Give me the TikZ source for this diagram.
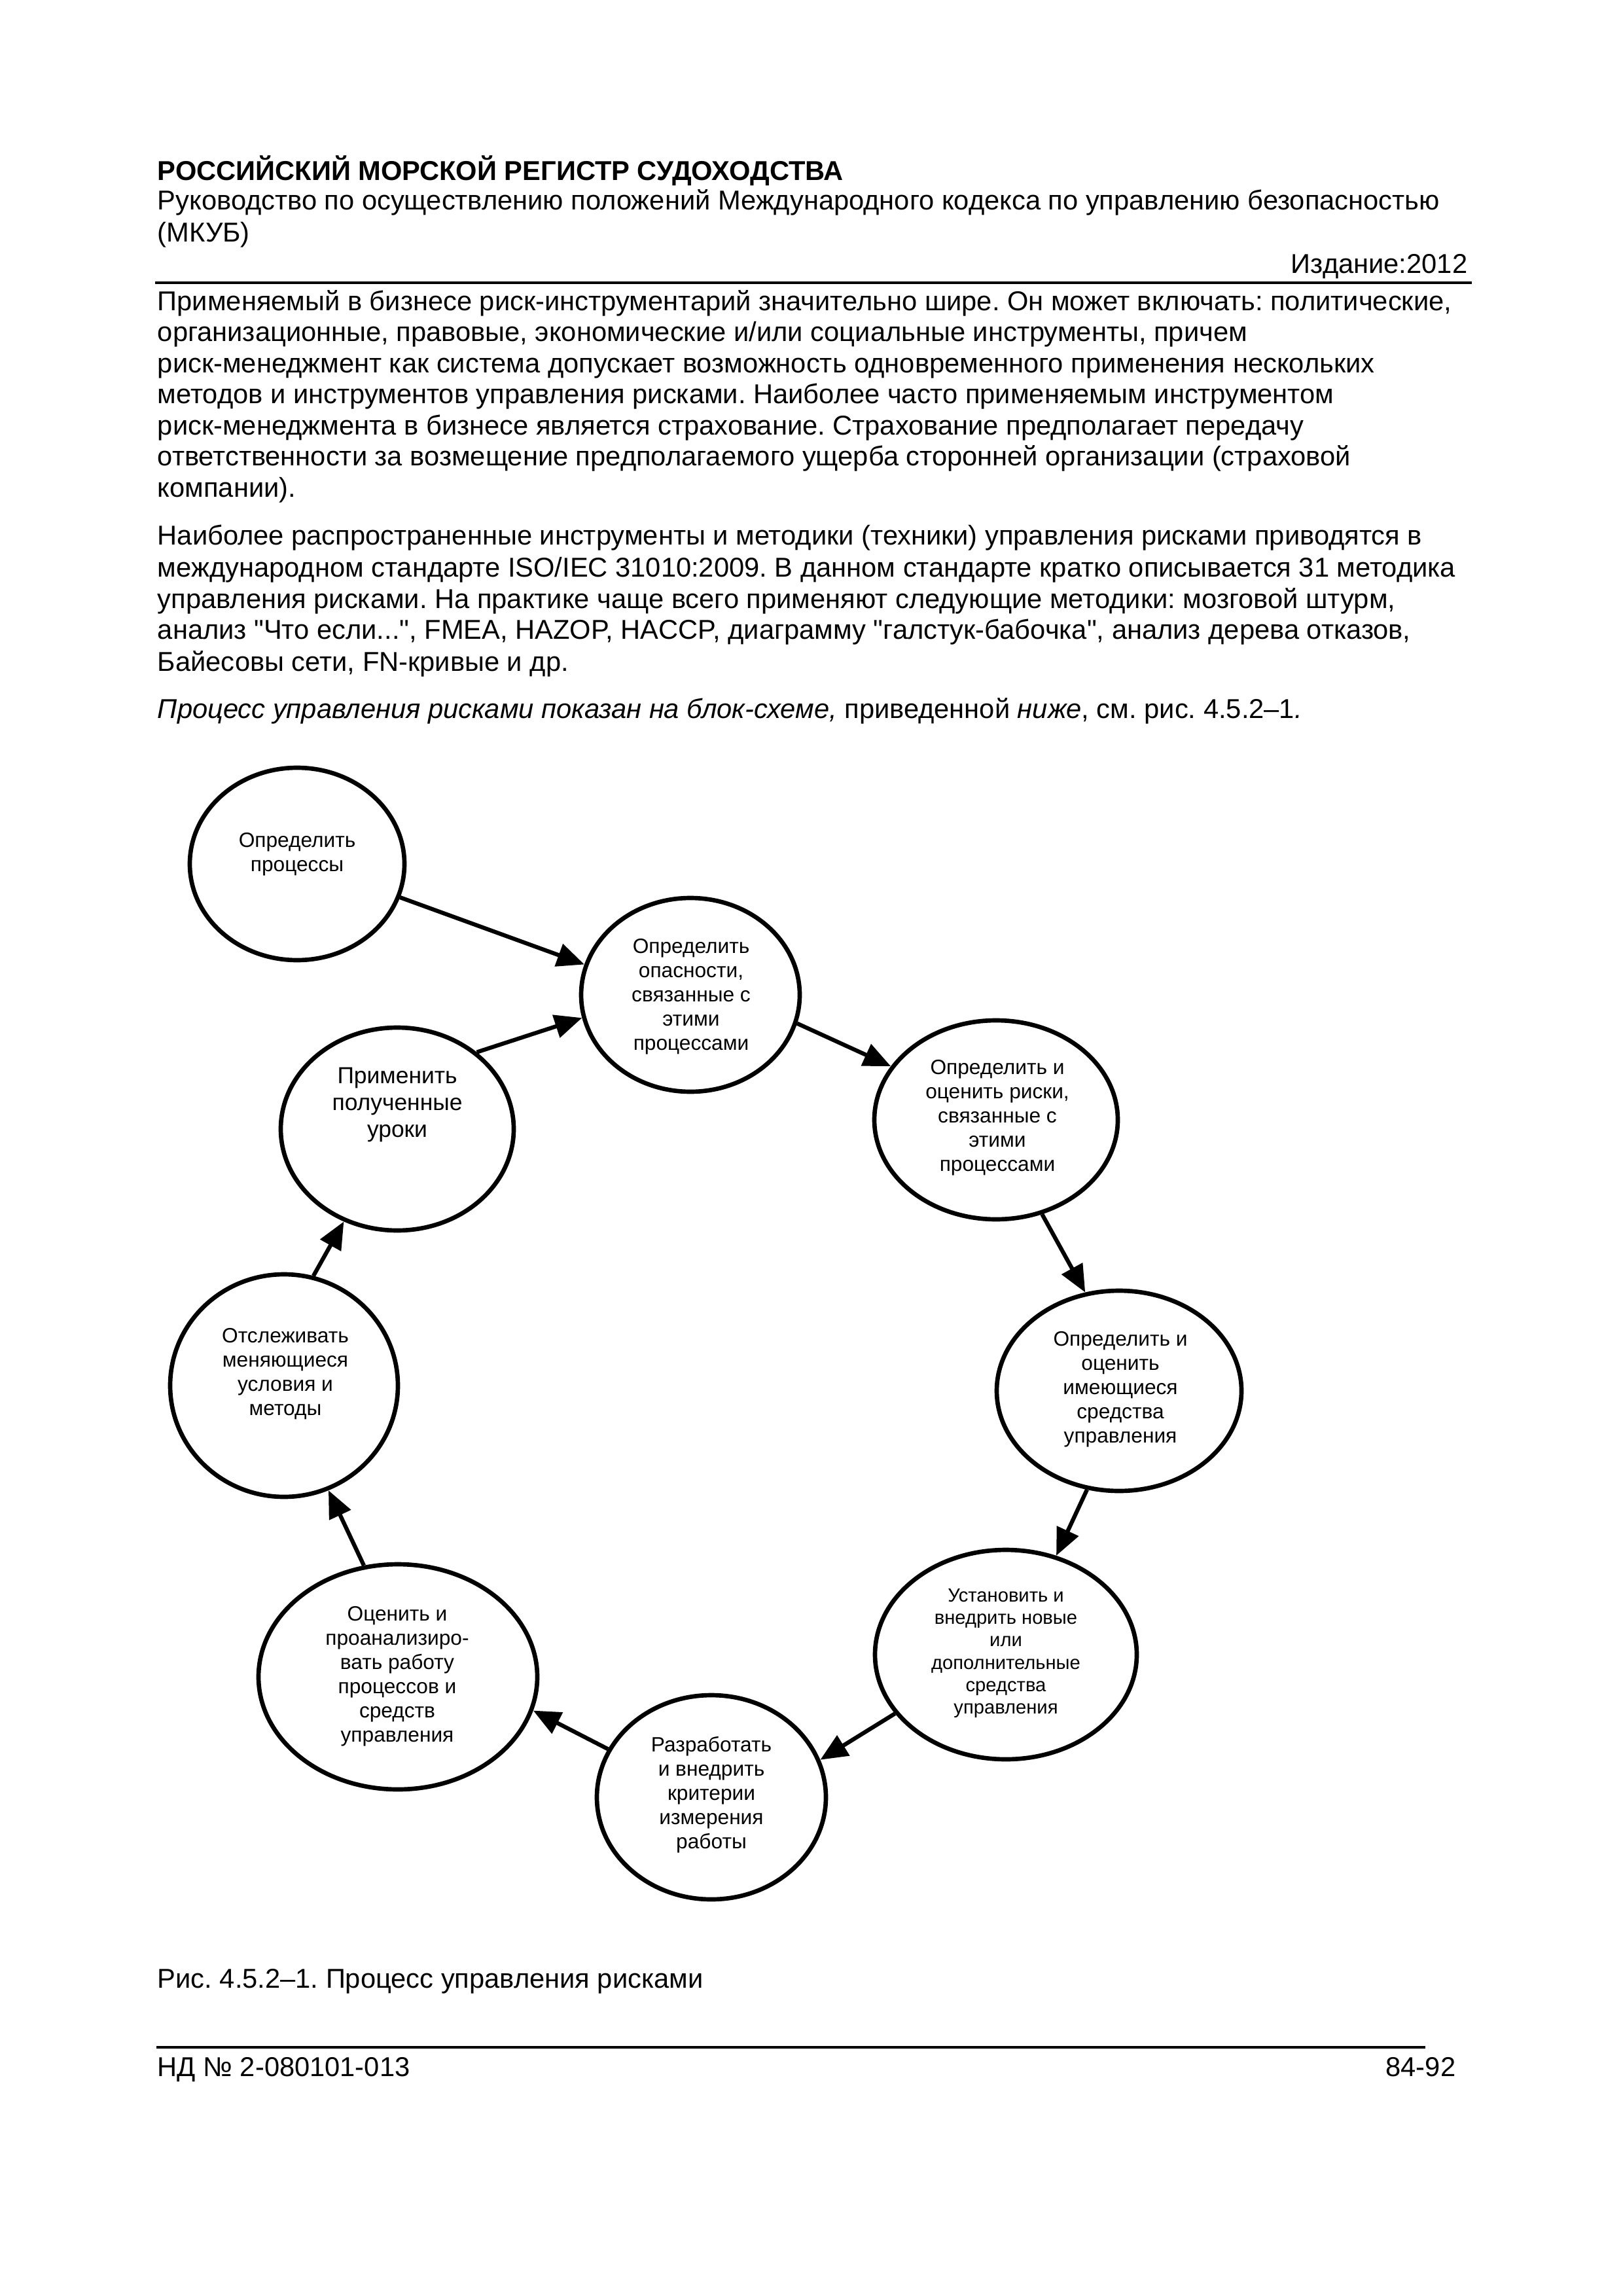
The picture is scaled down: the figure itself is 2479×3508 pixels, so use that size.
\documentclass[tikz,border=0pt]{standalone}
\usepackage{fontspec}
\setmainfont{Liberation Sans}
\usetikzlibrary{shapes.geometric,arrows.meta}
\font\qf="Liberation Sans" at 10pt
\newcommand{\dq}{{\qf"}}
\frenchspacing
\begin{document}
\begin{tikzpicture}[x=0.24pt,y=-0.24pt,
 body/.style={anchor=base west, inner sep=0pt, font=\fontsize{10}{11.5}\selectfont},
 bodyr/.style={anchor=base east, inner sep=0pt, font=\fontsize{10}{11.5}\selectfont},
 circ/.style 2 args={ellipse, draw, line width=1.6pt, inner sep=0pt, minimum width=#1*0.48pt, minimum height=#2*0.48pt},
 ctext/.style={align=center, inner sep=0pt, font=\fontsize{7.6}{8.9}\selectfont},
 arr/.style={line width=1.5pt, -{Triangle[length=10pt,width=8.5pt]}},
 rule/.style={line width=1pt}
]
\fill[white] (0,0) rectangle (2479,3508);
\useasboundingbox (0,0) rectangle (2479,3508);

% header
\node[body, font=\fontsize{10}{11.5}\selectfont\bfseries] (h1) at (240,276) {РОССИЙСКИЙ МОРСКОЙ РЕГИСТР СУДОХОДСТВА};
\node[body] (h2) at (240,321) {Руководство по осуществлению положений Международного кодекса по управлению безопасностью};
\node[body] (h3) at (240,370) {(МКУБ)};
\node[bodyr] (h4) at (2243,418) {Издание:2012};
\draw[rule] (237,432) -- (2249,432);

% paragraph 1
\node[body] (p1) at (240,475) {Применяемый в бизнесе риск-инструментарий значительно шире. Он может включать: политические,};
\node[body] (p2) at (240,522) {организационные, правовые, экономические и/или социальные инструменты, причем};
\node[body] (p3) at (240,570) {риск-менеджмент как система допускает возможность одновременного применения нескольких};
\node[body] (p4) at (240,617) {методов и инструментов управления рисками. Наиболее часто применяемым инструментом};
\node[body] (p5) at (240,665) {риск-менеджмента в бизнесе является страхование. Страхование предполагает передачу};
\node[body] (p6) at (240,712) {ответственности за возмещение предполагаемого ущерба сторонней организации (страховой};
\node[body] (p7) at (240,760) {компании).};

% paragraph 2
\node[body] (q1) at (240,833) {Наиболее распространенные инструменты и методики (техники) управления рисками приводятся в};
\node[body] (q2) at (240,882) {международном стандарте ISO/IEC 31010:2009. В данном стандарте кратко описывается 31 методика};
\node[body] (q3) at (240,930) {управления рисками. На практике чаще всего применяют следующие методики: мозговой штурм,};
\node[body] (q4) at (240,977) {анализ \dq Что если...\dq, FMEA, HAZOP, HACCP, диаграмму \dq галстук-бабочка\dq, анализ дерева отказов,};
\node[body] (q5) at (240,1025) {Байесовы сети, FN-кривые и др.};
\node[body] (q6) at (240,1097) {{\itshape Процесс управления рисками показан на блок-схеме,} приведенной {\itshape ниже}, см. рис. 4.5.2–1{\itshape .}};

% diagram circles
\node[circ={164}{147}] (c1) at (454,1320) {};
\node[circ={167}{148}] (c2) at (1055,1520) {};
\node[circ={186}{152}] (c3) at (1522,1711) {};
\node[circ={187}{153}] (c4) at (1710,2125) {};
\node[circ={200}{160}] (c5) at (1537,2528) {};
\node[circ={175}{156}] (c6) at (1087,2746) {};
\node[circ={213}{172}] (c7) at (608,2562) {};
\node[circ={174}{170}] (c8) at (434,2117) {};
\node[circ={178}{155}] (c9) at (607,1725) {};

% circle texts
\node[ctext] (t1) at (454,1305) {Определить\\процессы};
\node[ctext] (t2) at (1056,1523) {Определить\\опасности,\\связанные с\\этими\\процессами};
\node[ctext] (t3) at (1524,1708) {Определить и\\оценить риски,\\связанные с\\этими\\процессами};
\node[ctext] (t4) at (1712,2123) {Определить и\\оценить\\имеющиеся\\средства\\управления};
\node[ctext, font=\fontsize{7}{8.2}\selectfont] (t5) at (1537,2526) {Установить и\\внедрить новые\\или\\дополнительные\\средства\\управления};
\node[ctext] (t6) at (1087,2742) {Разработать\\и внедрить\\критерии\\измерения\\работы};
\node[ctext] (t7) at (607,2561) {Оценить и\\проанализиро-\\вать работу\\процессов и\\средств\\управления};
\node[ctext] (t8) at (436,2099) {Отслеживать\\меняющиеся\\условия и\\методы};
\node[ctext, font=\fontsize{8.5}{9.8}\selectfont] (t9) at (607,1688) {Применить\\полученные\\уроки};

% connectors
\draw[arr] (c1.342.2) -- (c2.164.5);
\draw[arr] (c9.44.8) -- (c2.192.2);
\draw[arr] (c2.345.5) -- (c3.153.2);
\draw[arr] (c3.296) -- (c4.109.5);
\draw[arr] (c4.252.8) -- (c5.63);
\draw[arr] (c5.208) -- (c6.19);
\draw[arr] (c6.155) -- (c7.346);
\draw[arr] (c7.107) -- (c8.293.3);
\draw[arr] (c8.75) -- (c9.240);

% caption and footer
\node[body] (cap) at (240,3037) {Рис. 4.5.2–1. Процесс управления рисками};
\draw[rule] (239,3128) -- (2178,3128);
\node[body] (f1) at (240,3172) {НД № 2-080101-013};
\node[bodyr] (f2) at (2225,3172) {84-92};
\end{tikzpicture}
\end{document}
